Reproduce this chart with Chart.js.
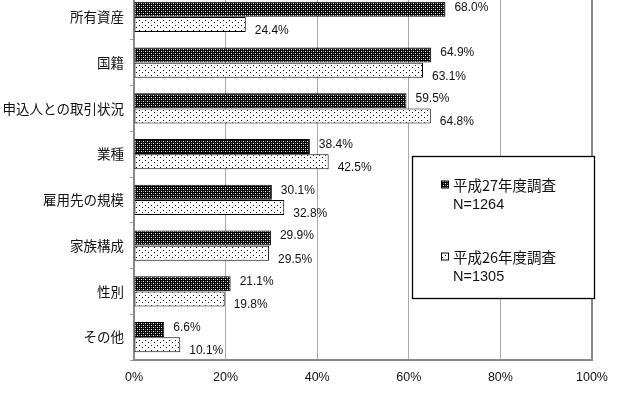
<!DOCTYPE html>
<html>
<head>
<meta charset="utf-8">
<script src="https://cdn.jsdelivr.net/npm/chart.js@4"></script>
<style>
html,body{margin:0;padding:0;background:#fff;overflow:hidden;width:640px;height:395px;}
#wrap{position:absolute;left:0;top:-6px;width:640px;height:401px;}
</style>
</head>
<body>
<div id="wrap"><canvas id="c"></canvas></div>
<script>
const categories = ['所有資産','国籍','申込人との取引状況','業種','雇用先の規模','家族構成','性別','その他'];
const seriesNames = ['平成27年度調査','平成26年度調査'];
const seriesN = ['N=1264','N=1305'];
const h27 = [68.0, 64.9, 59.5, 38.4, 30.1, 29.9, 21.1, 6.6];
const h26 = [24.4, 63.1, 64.8, 42.5, 32.8, 29.5, 19.8, 10.1];
const xTicks = [0, 20, 40, 60, 80, 100];

const OFF = 6; // canvas offset vs page
const NUMFONT = '"Liberation Sans Narrow","Arial Narrow","Liberation Sans",sans-serif';
const JPFONT = '"Noto Sans CJK JP",sans-serif';

function makePattern(dark){
  const c = document.createElement('canvas');
  const ctx = c.getContext('2d');
  if(dark){
    c.width=4;c.height=4;
    ctx.fillStyle='#000';ctx.fillRect(0,0,4,4);
    ctx.fillStyle='#fff';
    ctx.fillRect(1,1,1,1);ctx.fillRect(3,3,1,1);
    ctx.fillStyle='#777';
    ctx.fillRect(1,3,1,1);ctx.fillRect(3,1,1,1);
  } else {
    c.width=6;c.height=5;
    ctx.fillStyle='#fff';ctx.fillRect(0,0,6,5);
    ctx.fillStyle='#000';
    ctx.fillRect(1,1,1,1);ctx.fillRect(4,3,1,1);
  }
  return c;
}
const tmp = document.createElement('canvas').getContext('2d');
const patDark = tmp.createPattern(makePattern(true),'repeat');
const patLight = tmp.createPattern(makePattern(false),'repeat');

const labelPlugin = {
  id:'labels',
  afterDatasetsDraw(chart){
    const ctx = chart.ctx;
    ctx.save();
    ctx.font = '12px ' + NUMFONT;
    ctx.fillStyle = '#111';
    ctx.textBaseline = 'middle';
    ctx.textAlign = 'left';
    const yoff = [-2, 6];
    chart.data.datasets.forEach((ds, di)=>{
      const meta = chart.getDatasetMeta(di);
      meta.data.forEach((el, i)=>{
        ctx.fillText(ds.data[i].toFixed(1)+'%', el.x + 9, el.y + yoff[di]);
      });
    });
    const xs = chart.scales.x;
    const a = chart.chartArea;
    ctx.strokeStyle = '#8a8a8a';
    ctx.lineWidth = 2;
    ctx.beginPath();
    ctx.moveTo(xs.getPixelForValue(100), a.top);
    ctx.lineTo(xs.getPixelForValue(100), a.bottom);
    ctx.stroke();
    ctx.restore();
  }
};

const legendPlugin = {
  id:'boxLegend',
  afterDraw(chart){
    const ctx = chart.ctx;
    ctx.save();
    const bx=412.5, by=156.5+OFF, bw=182, bh=142;
    ctx.fillStyle='#fff';
    ctx.fillRect(bx,by,bw,bh);
    ctx.strokeStyle='#000';ctx.lineWidth=1.3;
    ctx.strokeRect(bx,by,bw,bh);
    const rows=[185+OFF, 257+OFF];
    const pats=[patDark, patLight];
    rows.forEach((y,i)=>{
      ctx.fillStyle=pats[i];
      ctx.fillRect(442,y-3.5,6,6);
      ctx.strokeStyle='#000';ctx.lineWidth=1;
      ctx.strokeRect(441.5,y-4,7,7);
      ctx.fillStyle='#111';
      ctx.textBaseline='middle';ctx.textAlign='left';
      ctx.font='14.5px '+JPFONT;
      ctx.fillText(seriesNames[i],453,y);
      ctx.font='14.5px "Liberation Sans",sans-serif';
      ctx.fillText(seriesN[i],453,y+20);
    });
    ctx.restore();
  }
};

new Chart(document.getElementById('c'),{
  type:'bar',
  data:{
    labels:categories,
    datasets:[
      {label:seriesNames[0],data:h27,backgroundColor:patDark,borderColor:'#000',borderWidth:1,borderSkipped:false,categoryPercentage:0.67,barPercentage:0.97},
      {label:seriesNames[1],data:h26,backgroundColor:patLight,borderColor:'#000',borderWidth:1,borderSkipped:false,categoryPercentage:0.67,barPercentage:0.97}
    ]
  },
  options:{
    indexAxis:'y',
    responsive:true,
    maintainAspectRatio:false,
    animation:false,
    layout:{padding:{left:0,right:48,top:0,bottom:0}},
    plugins:{legend:{display:false},tooltip:{enabled:false}},
    scales:{
      x:{
        min:0,max:100,
        afterBuildTicks(s){ s.ticks = xTicks.map(v=>({value:v})); },
        afterFit(s){ s.height = 35; s.paddingTop = 0; s.paddingBottom = 0; },
        grid:{color:(c)=> c.index===0 ? 'rgba(0,0,0,0)' : '#a8a8a8', lineWidth:1, drawTicks:false},
        border:{display:true,color:'#8a8a8a',width:2},
        ticks:{callback:(v)=>v+'%',font:{family:NUMFONT,size:12.5},color:'#111',padding:10,maxRotation:0}
      },
      y:{
        afterFit(s){ s.width = 134; s.paddingTop = 0; s.paddingBottom = 0; },
        grid:{offset:true,drawOnChartArea:false,drawTicks:true,tickLength:4,color:'#999'},
        border:{display:true,color:'#8a8a8a',width:2},
        ticks:{font:{family:JPFONT,size:13.5},color:'#111',padding:6}
      }
    }
  },
  plugins:[labelPlugin,legendPlugin]
});
</script>
</body>
</html>
